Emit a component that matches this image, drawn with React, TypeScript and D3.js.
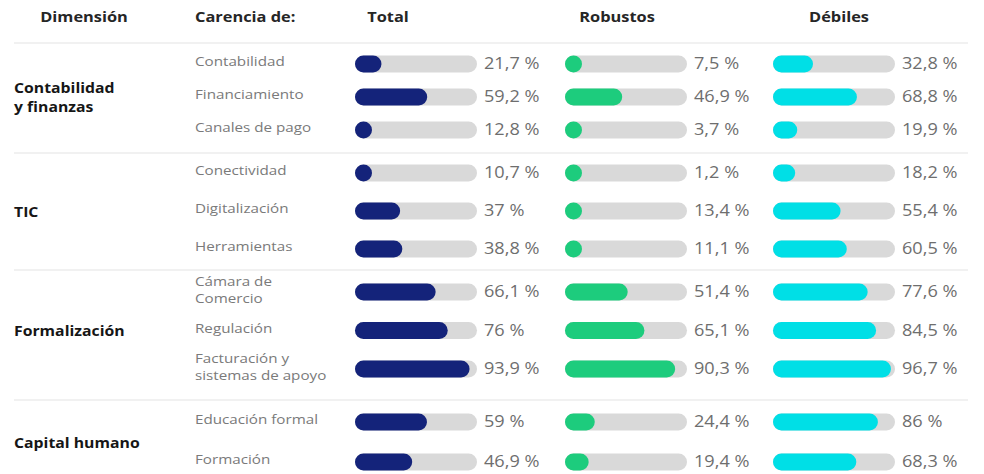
import React, { useEffect, useRef } from "react";
import * as d3 from "d3";

// data
const dimensions = [
  { name: ["Contabilidad", "y finanzas"], rows: 3 },
  { name: ["TIC"], rows: 3 },
  { name: ["Formalización"], rows: 3 },
  { name: ["Capital humano"], rows: 2 },
];
const categories = [
  ["Contabilidad"],
  ["Financiamiento"],
  ["Canales de pago"],
  ["Conectividad"],
  ["Digitalización"],
  ["Herramientas"],
  ["Cámara de", "Comercio"],
  ["Regulación"],
  ["Facturación y", "sistemas de apoyo"],
  ["Educación formal"],
  ["Formación"],
];
const seriesNames = ["Total", "Robustos", "Débiles"];
const total = [21.7, 59.2, 12.8, 10.7, 37, 38.8, 66.1, 76, 93.9, 59, 46.9];
const robustos = [7.5, 46.9, 3.7, 1.2, 13.4, 11.1, 51.4, 65.1, 90.3, 24.4, 19.4];
const debiles = [32.8, 68.8, 19.9, 18.2, 55.4, 60.5, 77.6, 84.5, 96.7, 86, 68.3];

const colors = ["#14237a", "#1dcc7d", "#00dfe6"];

export default function App() {
  const svgRef = useRef<SVGSVGElement>(null);

  useEffect(() => {
    if (!svgRef.current) return;
    const width = 984;
    const height = 474;
    const svg = d3.select(svgRef.current);
    svg.attr("viewBox", `0 0 ${width} ${height}`);
    svg.selectAll("*").remove();

    const font = "'Open Sans', 'Noto Sans', sans-serif";
    const sx = 1.17; // the original's text is a bit wide
    const series = [total, robustos, debiles];

    // small helper: text placed at (x,y), stretched horizontally
    const label = (
      parent: d3.Selection<any, any, any, any>,
      x: number,
      y: number,
      txt: string,
      opts: { size: number; weight?: number; fill: string; anchor?: string }
    ) =>
      parent
        .append("text")
        .attr("transform", `translate(${x},${y}) scale(${sx},1)`)
        .attr("text-anchor", opts.anchor || "start")
        .attr("dominant-baseline", "middle")
        .attr("font-family", font)
        .attr("font-size", opts.size)
        .attr("font-weight", opts.weight || 400)
        .attr("fill", opts.fill)
        .text(txt);

    // group layout: separator top, first-row offset, row step
    const groupTop = [43, 153, 270, 400];
    const groupPad = [21, 20, 22, 22];
    const groupStep = [33, 38, 38.5, 40];

    // y position of each row via a point scale per group
    const rowY: number[] = [];
    let idx = 0;
    dimensions.forEach((d, gi) => {
      const ids = d3.range(d.rows);
      const y = d3
        .scalePoint<number>()
        .domain(ids)
        .range([groupTop[gi] + groupPad[gi], groupTop[gi] + groupPad[gi] + groupStep[gi] * (d.rows - 1)]);
      ids.forEach((i) => {
        rowY[idx++] = y(i) as number;
      });
    });

    // column positions
    const colX = [355, 565, 773];
    const trackW = 122;
    const barH = 17;
    const x = d3.scaleLinear().domain([0, 100]).range([0, trackW]);

    // header
    label(svg, 84, 18, "Dimensión", { size: 14, weight: 700, fill: "#262626", anchor: "middle" });
    label(svg, 195, 18, "Carencia de:", { size: 14, weight: 700, fill: "#262626" });
    const headCx = [388, 617, 839];
    seriesNames.forEach((s, i) => {
      label(svg, headCx[i], 18, s, { size: 14, weight: 700, fill: "#262626", anchor: "middle" });
    });

    // separators
    svg.append("g").selectAll("line").data(groupTop).enter().append("line")
      .attr("x1", 14).attr("x2", 968)
      .attr("y1", (d) => d).attr("y2", (d) => d)
      .attr("stroke", "#e4e4e4").attr("stroke-width", 1.2);

    // dimension labels
    let start = 0;
    dimensions.forEach((d) => {
      const ys = rowY.slice(start, start + d.rows);
      const cy = (ys[0] + ys[ys.length - 1]) / 2 + 2;
      start += d.rows;
      d.name.forEach((line, li) => {
        label(svg, 14, cy + (li - (d.name.length - 1) / 2) * 18.5, line,
          { size: 13.5, weight: 700, fill: "#161616" });
      });
    });

    // category labels
    categories.forEach((c, i) => {
      c.forEach((line, li) => {
        label(svg, 195, rowY[i] + (li - (c.length - 1) / 2) * 17 - 1, line,
          { size: 13, fill: "#7a7a7a" });
      });
    });

    // bars
    series.forEach((vals, si) => {
      const g = svg.append("g").attr("transform", `translate(${colX[si]},0)`);
      g.selectAll("rect.track").data(vals).enter().append("rect")
        .attr("class", "track")
        .attr("x", 0).attr("y", (_, i) => rowY[i] - barH / 2)
        .attr("width", trackW).attr("height", barH)
        .attr("rx", barH / 2).attr("fill", "#d9d9d9");
      g.selectAll("rect.fill").data(vals).enter().append("rect")
        .attr("class", "fill")
        .attr("x", 0).attr("y", (_, i) => rowY[i] - barH / 2)
        .attr("width", (d) => Math.max(barH, x(d))).attr("height", barH)
        .attr("rx", barH / 2).attr("fill", colors[si]);
      vals.forEach((d, i) => {
        label(g, trackW + 7, rowY[i] + 1, `${String(d).replace(".", ",")} %`,
          { size: 15.5, fill: "#6e6e6e" });
      });
    });
  }, []);

  return (
    <svg
      ref={svgRef}
      width={984}
      height={474}
      style={{ position: "absolute", left: 0, top: 0, display: "block", background: "#fff" }}
    />
  );
}
